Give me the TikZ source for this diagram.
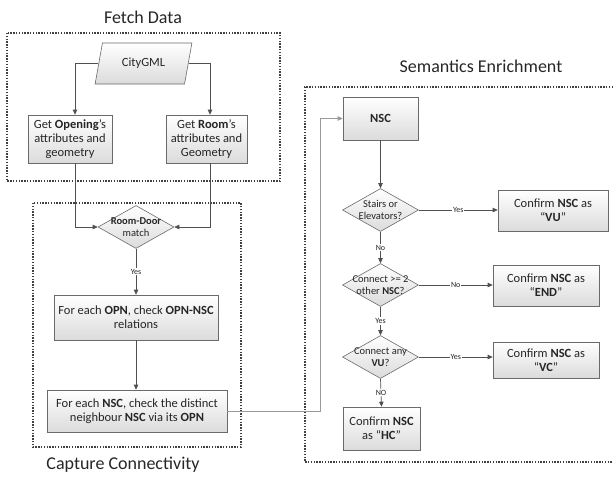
\documentclass[tikz,border=0pt]{standalone}
\usepackage{fontspec}
\setmainfont{Carlito}
\usetikzlibrary{shapes.geometric,shadows,arrows.meta}
\definecolor{edge}{HTML}{6A6A6A}
\definecolor{conn}{HTML}{505050}
\definecolor{connlight}{HTML}{9A9A9A}
\definecolor{txt}{HTML}{262626}
\begin{document}
\begin{tikzpicture}[x=1pt,y=-1pt,
  box/.style={draw=edge, line width=0.6pt, top color=white, bottom color=black!14,
    drop shadow={opacity=0.3, shadow xshift=1.2pt, shadow yshift=-1.2pt, fill=black!60},
    align=center, text=txt, font=\fontsize{12.5}{14}\selectfont, inner sep=0pt},
  dec/.style={diamond, draw=edge, line width=0.6pt, top color=white, bottom color=black!14,
    inner sep=0pt, minimum width=76pt, minimum height=43pt},
  dtext/.style={align=center, text=txt, font=\fontsize{10.5}{12}\selectfont, inner sep=0pt},
  arr/.style={draw=conn, line width=0.7pt, -{Triangle[length=5pt,width=4.5pt]}},
  arrlight/.style={draw=connlight, line width=0.8pt, -{Triangle[length=5pt,width=4.5pt]}},
  lab/.style={fill=white, inner sep=1pt, font=\fontsize{8}{9}\selectfont, text=txt},
  ttl/.style={font=\fontsize{18}{20}\selectfont, text=txt, inner sep=0pt},
  grp/.style={draw=black!75, line width=1.2pt, dash pattern=on 1.4pt off 1.4pt}
]
\useasboundingbox (0,0) rectangle (613,477);

% group frames
\draw[grp] (7,33) rectangle (280,181);
\draw[grp] (33,203) rectangle (241,447);
\draw[grp] (613,87) -- (305,87) -- (305,462) -- (613,462);

% titles
\node[ttl] (tFetch) at (143,17) {Fetch Data};
\node[ttl] (tCap) at (123,465) {Capture Connectivity};
\node[ttl] (tSem) at (481,66) {Semantics Enrichment};

% Fetch data
\node[trapezium, trapezium left angle=70, trapezium right angle=110, trapezium stretches=true,
  minimum width=97pt, minimum height=41pt, draw=edge, line width=0.6pt,
  top color=white, bottom color=black!14, inner sep=0pt,
  text=txt, font=\fontsize{12.5}{14}\selectfont] (city) at (143.5,63.5) {CityGML};
\node[box, minimum width=84pt, minimum height=48pt] (open) at (70,139)
  {Get \textbf{Opening}’s\\attributes and\\geometry};
\node[box, minimum width=81pt, minimum height=48pt] (room) at (206.5,139)
  {Get \textbf{Room}’s\\attributes and\\Geometry};

% Capture connectivity
\node[dec] (rd) at (136,227) {};
\node[dtext] (rdT) at (rd.center) {\textbf{Room-Door}\\match};
\node[box, minimum width=164pt, minimum height=45pt] (opn) at (136,317.5)
  {For each \textbf{OPN}, check \textbf{OPN-NSC}\\relations};
\node[box, minimum width=180pt, minimum height=42pt] (dist) at (137,411)
  {For each \textbf{NSC}, check the distinct\\neighbour \textbf{NSC} via its \textbf{OPN}};

% Semantics enrichment
\node[box, minimum width=75pt, minimum height=43pt] (nsc) at (380.5,118.5) {\textbf{NSC}};
\node[dec] (stairs) at (380.5,210) {};
\node[dtext] (stairsT) at (stairs.center) {Stairs or\\Elevators?};
\node[box, minimum width=110pt, minimum height=41pt] (vu) at (553,210.5)
  {Confirm \textbf{NSC} as\\“\textbf{VU}”};
\node[dec] (conn2) at (380.5,285) {};
\node[dtext] (conn2T) at (conn2.center) {Connect >= 2\\other \textbf{NSC}?};
\node[box, minimum width=106pt, minimum height=41pt] (end) at (546,285.5)
  {Confirm \textbf{NSC} as\\“\textbf{END}”};
\node[dec] (anyvu) at (380.5,357) {};
\node[dtext] (anyvuT) at (anyvu.center) {Connect any\\\textbf{VU}?};
\node[box, minimum width=106pt, minimum height=36pt] (vc) at (546,360)
  {Confirm \textbf{NSC} as\\“\textbf{VC}”};
\node[box, minimum width=77pt, minimum height=43pt] (hc) at (381.5,428.5)
  {Confirm \textbf{NSC}\\as “\textbf{HC}”};

% connectors
\draw[arr] (city.west) -| ([xshift=5pt]open.north);
\draw[arr] (city.east) -| ([xshift=3.5pt]room.north);
\draw[arr] ([xshift=5pt]open.south) |- (rd.west);
\draw[arr] ([xshift=3.5pt]room.south) |- (rd.east);
\draw[arr] (rd.south) -- node[lab] {Yes} (opn.north);
\draw[arr] (opn.south) -- (opn.south |- dist.north);
\coordinate (bend) at (320,0);
\draw[arrlight] (dist.east) -- (dist.east -| bend) |- (nsc.west);
\draw[arr] (nsc.south) -- (stairs.north);
\draw[arr] (stairs.east) -- node[lab] {Yes} (stairs.east -| vu.west);
\draw[arr] (stairs.south) -- node[lab] {No} (conn2.north);
\draw[arr] (conn2.east) -- node[lab] {No} (conn2.east -| end.west);
\draw[arr] (conn2.south) -- node[lab] {Yes} (anyvu.north);
\draw[arr] (anyvu.east) -- node[lab] {Yes} (anyvu.east -| vc.west);
\draw[arr] (anyvu.south) -- node[lab] {NO} (hc.north);
\end{tikzpicture}
\end{document}
